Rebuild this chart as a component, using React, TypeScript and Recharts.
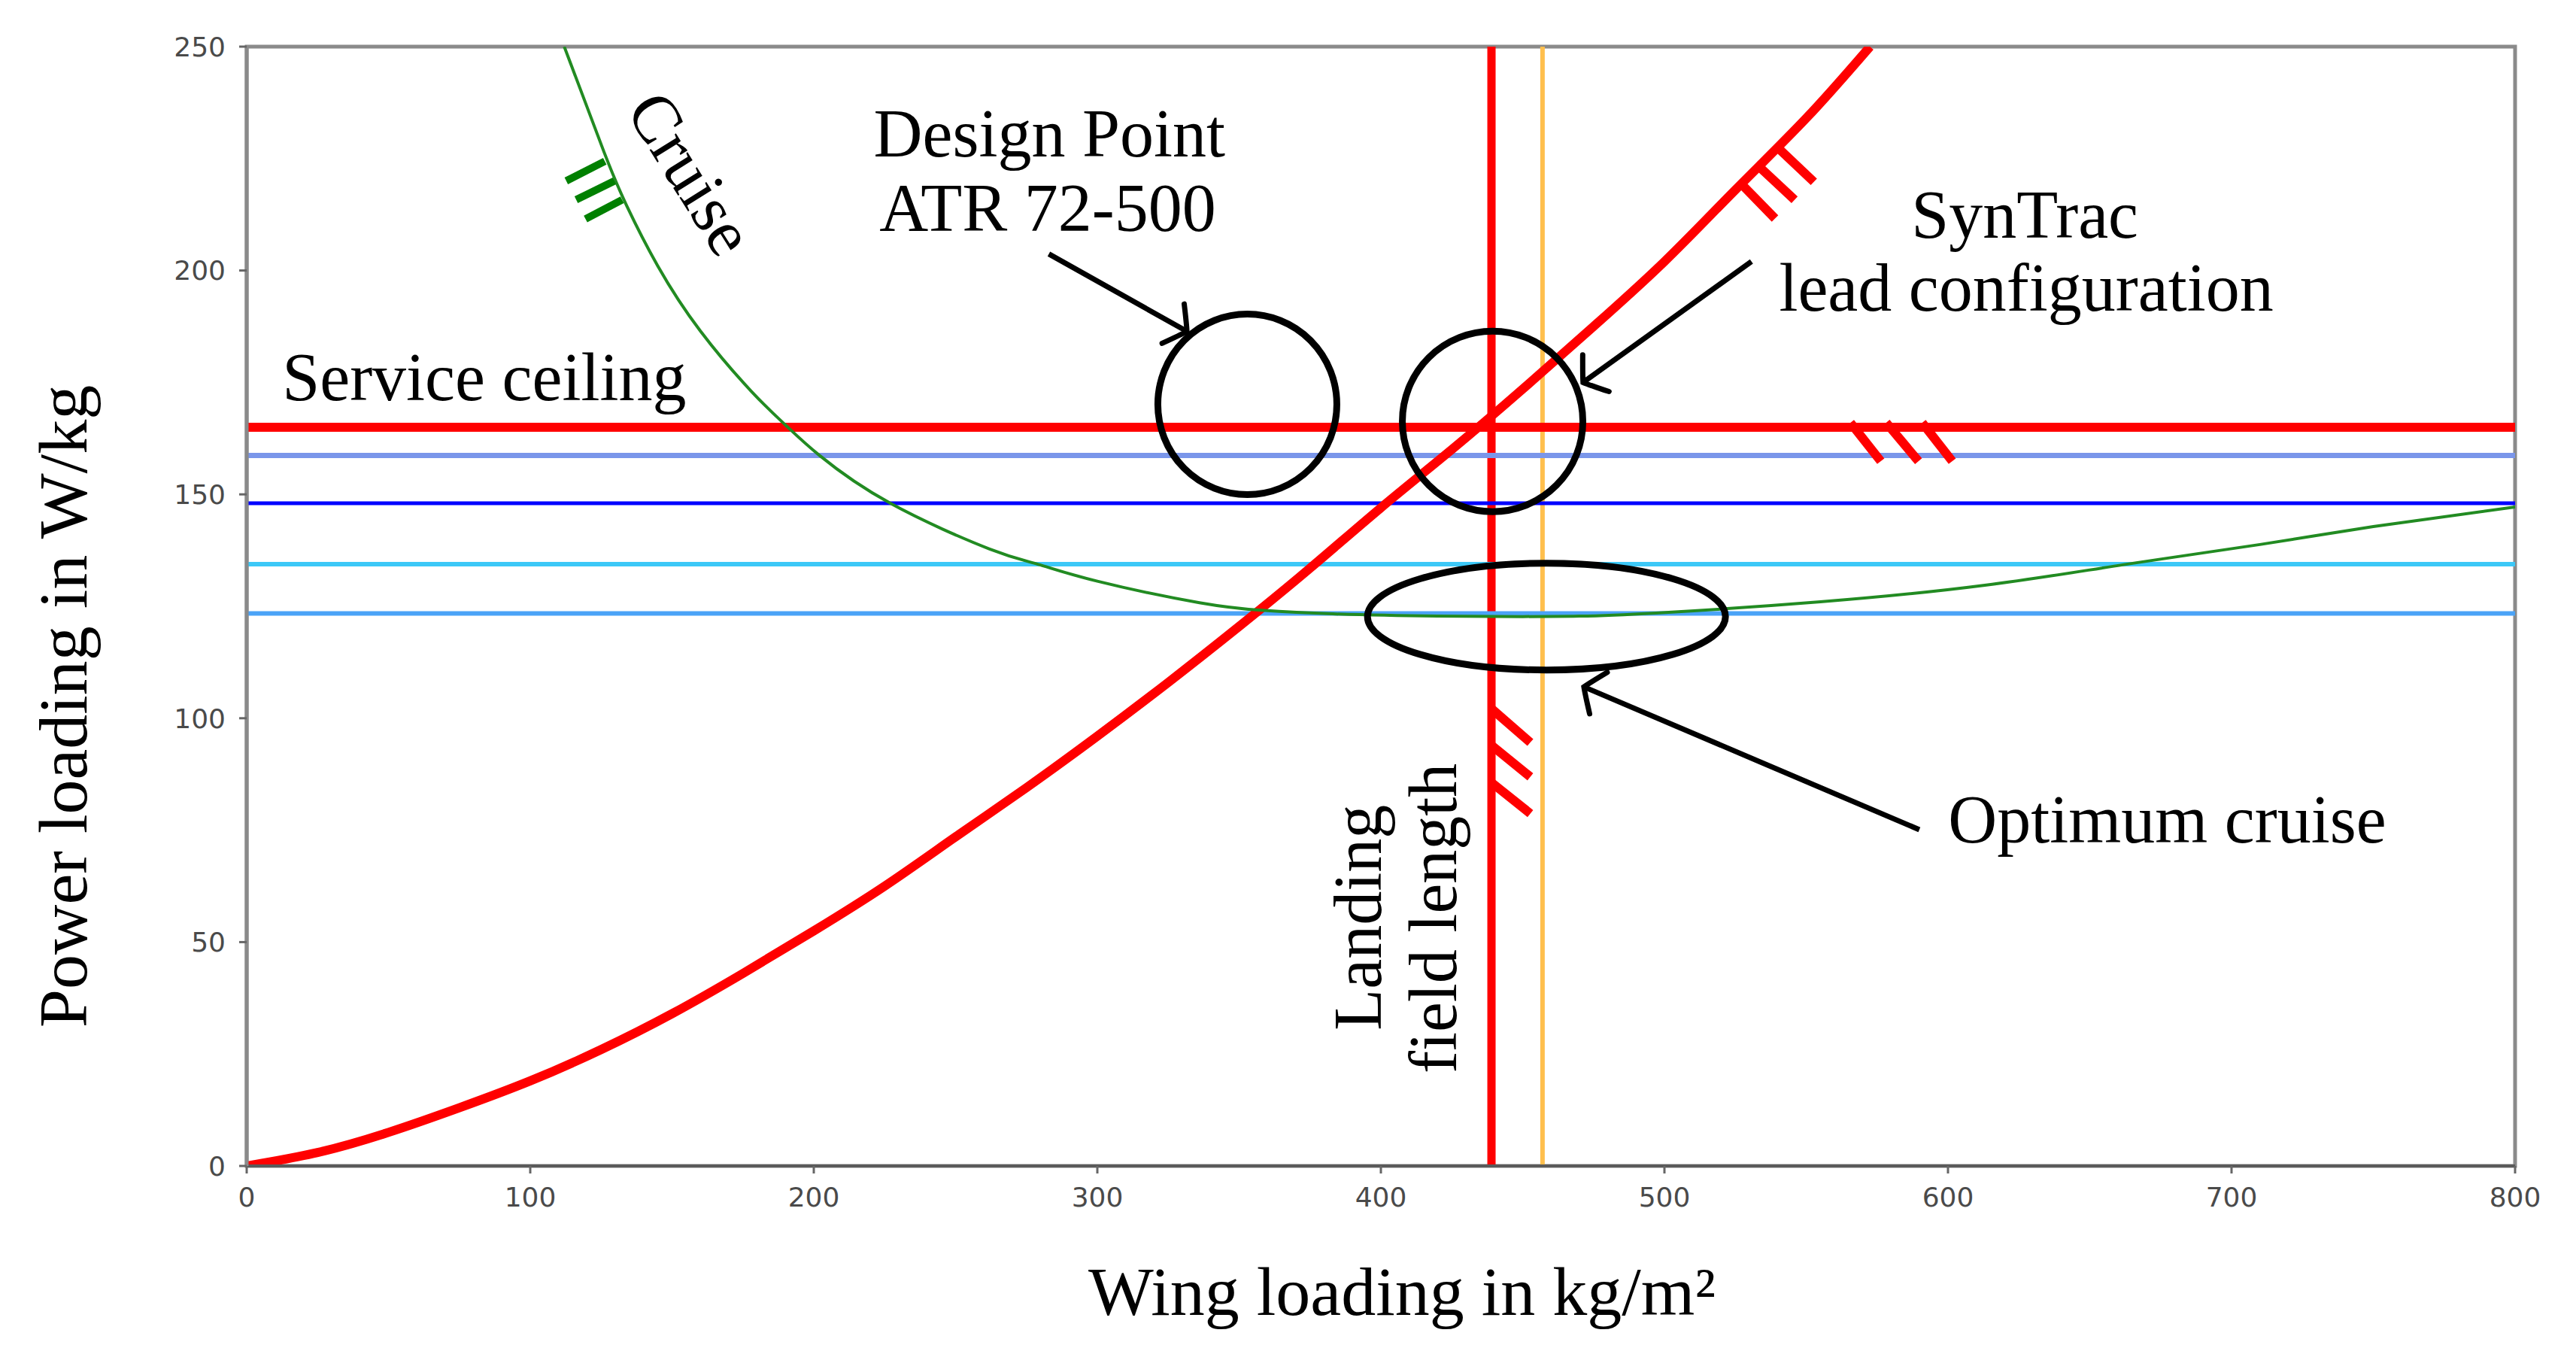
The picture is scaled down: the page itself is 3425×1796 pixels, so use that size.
import React from 'react';
import { LineChart, Line, XAxis, YAxis, ReferenceLine, ReferenceDot, ReferenceArea } from 'recharts';

// ---- data ----
const xTicks = [0, 100, 200, 300, 400, 500, 600, 700, 800];
const yTicks = [0, 50, 100, 150, 200, 250];

// take-off constraint (red curve)
const takeoffWingLoading = [0, 25, 50, 75, 100, 125, 150, 175, 200, 225, 250, 275, 300, 325, 350, 375, 400, 425, 450, 475, 500, 525, 550, 572.5];
const takeoffPowerLoading = [0, 3, 7.5, 13, 19, 26, 34, 43, 52.5, 62.5, 73.5, 84.5, 96, 108, 120.5, 133.5, 147, 160, 173.5, 187.5, 202, 218, 234, 250];

// cruise constraint (green curve)
const cruiseWingLoading = [112, 126, 134, 145, 160, 178, 190, 202, 227, 262, 279, 300, 336, 358, 383, 420, 450, 470, 497, 555, 613, 662, 710, 750, 800];
const cruisePowerLoading = [250, 226.5, 214.5, 201, 186.5, 173, 165.5, 158.7, 148, 137.8, 134.4, 130.6, 125.8, 124.1, 123.3, 122.8, 122.7, 122.8, 123.5, 126, 129.7, 134.3, 138.8, 142.8, 147.2];

// horizontal constraints (service ceiling + climb cases)
const horizontalLevels = [165, 158.7, 148, 134.4, 123.4];
// vertical constraints (landing field length, second landing case)
const verticalLevels = [439, 457];

// ---- styles (kept apart from the values) ----
const horizontalStyles = [
  { stroke: '#ff0000', width: 12 },
  { stroke: '#7a96ea', width: 7 },
  { stroke: '#0000ff', width: 5 },
  { stroke: '#3cc8f7', width: 6 },
  { stroke: '#4aa3f7', width: 6 },
];
const verticalStyles = [
  { stroke: '#ff0000', width: 11 },
  { stroke: '#ffbf4d', width: 6 },
];

// ---- annotation anchors (in data units) ----
const hatchGreen = [
  [[112.7, 220.0], [126.3, 224.4]],
  [[116.2, 215.8], [129.7, 220.0]],
  [[119.5, 211.5], [132.4, 215.8]],
];
const hatchRed = [
  [[526.1, 220.0], [539.0, 211.6]],
  [[532.2, 223.9], [545.9, 215.8]],
  [[539.0, 228.0], [552.7, 219.8]],
  [[565.6, 166.0], [576.3, 157.4]],
  [[578.2, 166.0], [589.6, 157.4]],
  [[590.9, 166.0], [601.5, 157.4]],
  [[438.7, 102.3], [452.7, 94.6]],
  [[438.7, 94.1], [452.7, 86.9]],
  [[438.7, 85.8], [452.7, 78.7]],
];
const arrowShafts = [
  [[282.9, 203.7], [331.6, 186.4]],
  [[530.7, 202.0], [471.3, 175.0]],
  [[589.9, 75.1], [471.6, 107.0]],
];
const arrowHeads = [
  { x: 331.6, y: 186.4, angle: 29.3 },
  { x: 471.3, y: 175.0, angle: 144.3 },
  { x: 471.6, y: 107.0, angle: -157 },
];
const ellipses = [
  { x: 352.9, y: 170.1, rx: 119, ry: 120 },
  { x: 439.4, y: 166.3, rx: 120, ry: 120 },
  { x: 458.4, y: 122.7, rx: 238, ry: 71 },
];
const labels = [
  { text: 'Design Point', x: 283.1, y: 225.5, anchor: 'middle', rotate: 0 },
  { text: 'ATR 72-500', x: 282.5, y: 208.8, anchor: 'middle', rotate: 0 },
  { text: 'SynTrac', x: 627.1, y: 207.4, anchor: 'middle', rotate: 0 },
  { text: 'lead configuration', x: 627.6, y: 191.0, anchor: 'middle', rotate: 0 },
  { text: 'Service ceiling', x: 12.5, y: 171.1, anchor: 'start', rotate: 0 },
  { text: 'Optimum cruise', x: 677.3, y: 72.3, anchor: 'middle', rotate: 0 },
  { text: 'Landing', x: 400.0, y: 55.5, anchor: 'middle', rotate: -90 },
  { text: 'field length', x: 426.5, y: 55.3, anchor: 'middle', rotate: -90 },
  { text: 'Cruise', x: 149.9, y: 219.0, anchor: 'middle', rotate: 58 },
];

const takeoffData = takeoffWingLoading.map((x, i) => ({ x, y: takeoffPowerLoading[i] }));
const cruiseData = cruiseWingLoading.map((x, i) => ({ x, y: cruisePowerLoading[i] }));

const SERIF = '"Liberation Serif", "Times New Roman", serif';
const TEXT_SIZE = 90;

const textShape = (l: any) => (p: any) => (
  <text
    x={p.cx}
    y={p.cy}
    textAnchor={l.anchor}
    fontFamily={SERIF}
    fontSize={TEXT_SIZE}
    fill="#000"
    transform={l.rotate ? `rotate(${l.rotate}, ${p.cx}, ${p.cy})` : undefined}
  >
    {l.text}
  </text>
);

const headShape = (angle: number) => (p: any) => (
  <path
    transform={`translate(${p.cx}, ${p.cy}) rotate(${angle})`}
    d="M -21 -30 Q -5 -8 0 0 Q -5 8 -21 30"
    fill="none"
    stroke="#000"
    strokeWidth={7}
    strokeLinecap="round"
  />
);

const ellipseShape = (e: any) => (p: any) => (
  <ellipse cx={p.cx} cy={p.cy} rx={e.rx} ry={e.ry} fill="none" stroke="#000" strokeWidth={9} />
);

const XTitle = (props: any) => {
  const vb = props.viewBox || { x: 328, y: 1550, width: 3016, height: 246 };
  return (
    <text x={vb.x + vb.width / 2 + 28} y={vb.y + 198} textAnchor="middle" fontFamily={SERIF} fontSize={92} fill="#000">
      Wing loading in kg/m²
    </text>
  );
};

const YTitle = (props: any) => {
  const vb = props.viewBox || { x: 0, y: 62, width: 328, height: 1488 };
  const cx = vb.x + 115;
  const cy = vb.y + vb.height / 2 + 133;
  return (
    <text x={cx} y={cy} textAnchor="middle" fontFamily={SERIF} fontSize={92} fill="#000" transform={`rotate(-90, ${cx}, ${cy})`}>
      Power loading in W/kg
    </text>
  );
};

export default function App() {
  const tickStyle = { fill: '#4a4a4a', fontSize: 36, fontFamily: '"DejaVu Sans", sans-serif' };
  return (
    <div style={{ position: 'absolute', left: 0, top: 0, width: 3425, height: 1796, background: '#fff' }}>
      <LineChart width={3425} height={1796} margin={{ top: 62, right: 81, bottom: 0, left: 0 }}>
        <XAxis
          type="number"
          dataKey="x"
          domain={[0, 800]}
          ticks={xTicks}
          height={246}
          tick={tickStyle}
          tickSize={10}
          tickMargin={18}
          axisLine={{ stroke: '#5a5a5a', strokeWidth: 4 }}
          tickLine={{ stroke: '#666', strokeWidth: 3 }}
          label={{ content: XTitle }}
          allowDataOverflow
        />
        <YAxis
          type="number"
          domain={[0, 250]}
          ticks={yTicks}
          width={328}
          tick={tickStyle}
          tickSize={10}
          tickMargin={18}
          axisLine={{ stroke: '#8a8a8a', strokeWidth: 5 }}
          tickLine={{ stroke: '#666', strokeWidth: 3 }}
          label={{ content: YTitle }}
          allowDataOverflow
        />
        <ReferenceArea x1={0} x2={800} y1={0} y2={250} fill="none" stroke="#8a8a8a" strokeWidth={5} />

        {verticalLevels.map((v, i) => (
          <ReferenceLine key={'v' + i} x={v} stroke={verticalStyles[i].stroke} strokeWidth={verticalStyles[i].width} />
        ))}
        {horizontalLevels.map((v, i) => (
          <ReferenceLine key={'h' + i} y={v} stroke={horizontalStyles[i].stroke} strokeWidth={horizontalStyles[i].width} />
        ))}

        <Line data={takeoffData} dataKey="y" type="natural" stroke="#ff0000" strokeWidth={12} dot={false} activeDot={false} isAnimationActive={false} />
        <Line data={cruiseData} dataKey="y" type="natural" stroke="#228b22" strokeWidth={4} dot={false} activeDot={false} isAnimationActive={false} />

        {hatchGreen.map((s, i) => (
          <ReferenceLine key={'hg' + i} segment={[{ x: s[0][0], y: s[0][1] }, { x: s[1][0], y: s[1][1] }]} stroke="#008000" strokeWidth={10} />
        ))}
        {hatchRed.map((s, i) => (
          <ReferenceLine key={'hr' + i} segment={[{ x: s[0][0], y: s[0][1] }, { x: s[1][0], y: s[1][1] }]} stroke="#ff0000" strokeWidth={12} />
        ))}
        {arrowShafts.map((s, i) => (
          <ReferenceLine key={'as' + i} segment={[{ x: s[0][0], y: s[0][1] }, { x: s[1][0], y: s[1][1] }]} stroke="#000" strokeWidth={7} />
        ))}
        {arrowHeads.map((a, i) => (
          <ReferenceDot key={'ah' + i} x={a.x} y={a.y} r={1} shape={headShape(a.angle)} />
        ))}
        {ellipses.map((e, i) => (
          <ReferenceDot key={'el' + i} x={e.x} y={e.y} r={1} shape={ellipseShape(e)} />
        ))}
        {labels.map((l, i) => (
          <ReferenceDot key={'lb' + i} x={l.x} y={l.y} r={1} shape={textShape(l)} />
        ))}
      </LineChart>
    </div>
  );
}
